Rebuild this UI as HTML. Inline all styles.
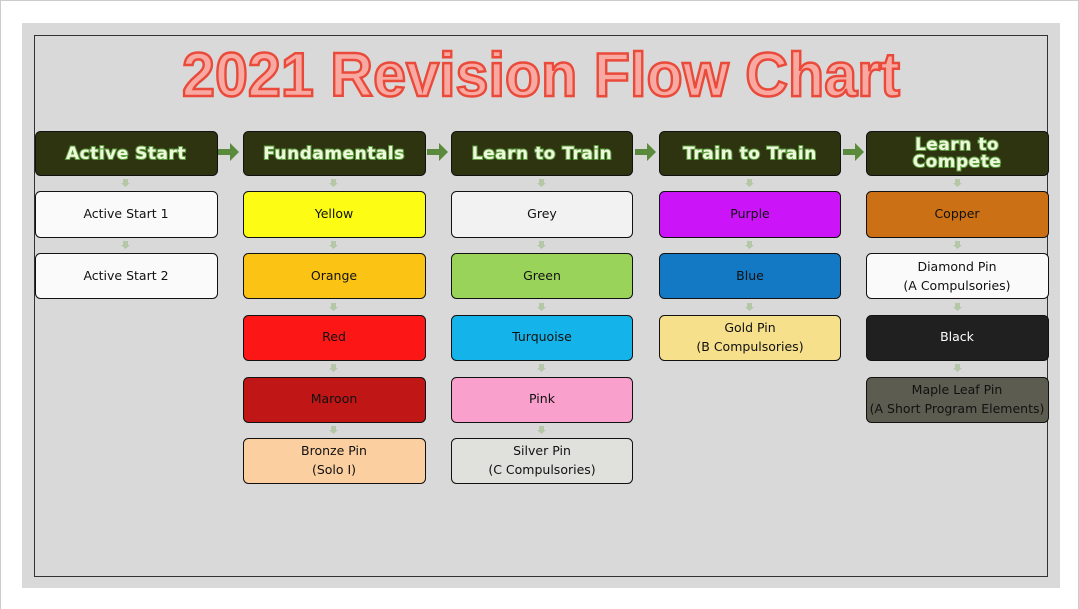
<!DOCTYPE html>
<html><head><meta charset="utf-8"><style>
html,body{margin:0;padding:0;background:#fff;width:1079px;height:609px;overflow:hidden}
svg{display:block}
.h{font-family:"DejaVu Sans","Liberation Sans",sans-serif;font-weight:bold;font-size:17px;fill:#eef8dc;stroke:#5a9a3c;stroke-width:2px;paint-order:stroke;letter-spacing:0.5px}
.t{font-family:"DejaVu Sans","Liberation Sans",sans-serif;font-size:12.5px;fill:#111}
</style></head><body>
<svg width="1079" height="609" xmlns="http://www.w3.org/2000/svg">
<rect x="0.5" y="0.5" width="1078" height="620" fill="#fff" stroke="#ccc"/>
<rect x="22" y="23" width="1038" height="565" fill="#d9d9d9"/>
<rect x="34.5" y="35.5" width="1013" height="541" fill="none" stroke="#333" stroke-width="1"/>
<text x="541" y="96" text-anchor="middle" textLength="718" lengthAdjust="spacingAndGlyphs" font-family="Liberation Sans,DejaVu Sans,sans-serif" font-weight="bold" font-size="62" fill="#f8aaa2" stroke="#ea4a3a" stroke-width="2.5">2021 Revision Flow Chart</text>
<g id="hdr">
<rect x="35.5" y="131.5" width="182" height="44" rx="5" fill="#2e3410" stroke="#111"/>
<rect x="243.5" y="131.5" width="182" height="44" rx="5" fill="#2e3410" stroke="#111"/>
<rect x="451.5" y="131.5" width="181" height="44" rx="5" fill="#2e3410" stroke="#111"/>
<rect x="659.5" y="131.5" width="181" height="44" rx="5" fill="#2e3410" stroke="#111"/>
<rect x="866.5" y="131.5" width="182" height="44" rx="5" fill="#2e3410" stroke="#111"/>
<text class="h" x="126" y="159" text-anchor="middle">Active Start</text>
<text class="h" x="334" y="159" text-anchor="middle">Fundamentals</text>
<text class="h" x="542" y="159" text-anchor="middle">Learn to Train</text>
<text class="h" x="750" y="159" text-anchor="middle">Train to Train</text>
<text class="h" x="957" y="150" text-anchor="middle">Learn to</text>
<text class="h" x="957" y="167" text-anchor="middle">Compete</text>
</g>
<g fill="#5a8a3c">
<path d="M218 149h12v-6l9 9-9 9v-6h-12z"/>
<path d="M427 149h12v-6l9 9-9 9v-6h-12z"/>
<path d="M635 149h12v-6l9 9-9 9v-6h-12z"/>
<path d="M843 149h12v-6l9 9-9 9v-6h-12z"/>
</g>
<g fill="#b4c8a8">
<path d="M123 179h5v4h2l-4.5 4-4.5-4h2z"/><path d="M123 241h5v4h2l-4.5 4-4.5-4h2z"/>
<path d="M331 179h5v4h2l-4.5 4-4.5-4h2z"/><path d="M331 241h5v4h2l-4.5 4-4.5-4h2z"/><path d="M331 303h5v4h2l-4.5 4-4.5-4h2z"/><path d="M331 364h5v4h2l-4.5 4-4.5-4h2z"/><path d="M331 426h5v4h2l-4.5 4-4.5-4h2z"/>
<path d="M539 179h5v4h2l-4.5 4-4.5-4h2z"/><path d="M539 241h5v4h2l-4.5 4-4.5-4h2z"/><path d="M539 303h5v4h2l-4.5 4-4.5-4h2z"/><path d="M539 364h5v4h2l-4.5 4-4.5-4h2z"/><path d="M539 426h5v4h2l-4.5 4-4.5-4h2z"/>
<path d="M747 179h5v4h2l-4.5 4-4.5-4h2z"/><path d="M747 241h5v4h2l-4.5 4-4.5-4h2z"/><path d="M747 303h5v4h2l-4.5 4-4.5-4h2z"/>
<path d="M955 179h5v4h2l-4.5 4-4.5-4h2z"/><path d="M955 241h5v4h2l-4.5 4-4.5-4h2z"/><path d="M955 303h5v4h2l-4.5 4-4.5-4h2z"/><path d="M955 364h5v4h2l-4.5 4-4.5-4h2z"/>
</g>
<g stroke="#111" stroke-width="1">
<rect x="35.5" y="191.5" width="182" height="46" rx="5" fill="#fafafa"/>
<rect x="35.5" y="253.5" width="182" height="45" rx="5" fill="#fafafa"/>
<rect x="243.5" y="191.5" width="182" height="46" rx="5" fill="#fcfc14"/>
<rect x="243.5" y="253.5" width="182" height="45" rx="5" fill="#fbc314"/>
<rect x="243.5" y="315.5" width="182" height="45" rx="5" fill="#fc1616"/>
<rect x="243.5" y="377.5" width="182" height="45" rx="5" fill="#c01616"/>
<rect x="243.5" y="438.5" width="182" height="45" rx="5" fill="#fccfa0"/>
<rect x="451.5" y="191.5" width="181" height="46" rx="5" fill="#f2f2f2"/>
<rect x="451.5" y="253.5" width="181" height="45" rx="5" fill="#9ad35a"/>
<rect x="451.5" y="315.5" width="181" height="45" rx="5" fill="#14b4ea"/>
<rect x="451.5" y="377.5" width="181" height="45" rx="5" fill="#f9a0cc"/>
<rect x="451.5" y="438.5" width="181" height="45" rx="5" fill="#e0e0dc"/>
<rect x="659.5" y="191.5" width="181" height="46" rx="5" fill="#cc14f8"/>
<rect x="659.5" y="253.5" width="181" height="45" rx="5" fill="#1479c4"/>
<rect x="659.5" y="315.5" width="181" height="45" rx="5" fill="#f6e08c"/>
<rect x="866.5" y="191.5" width="182" height="46" rx="5" fill="#cc7016"/>
<rect x="866.5" y="253.5" width="182" height="45" rx="5" fill="#fafafa"/>
<rect x="866.5" y="315.5" width="182" height="45" rx="5" fill="#202020"/>
<rect x="866.5" y="377.5" width="182" height="45" rx="5" fill="#5c5c50"/>
</g>
<g class="t" text-anchor="middle">
<text class="t" x="126" y="218">Active Start 1</text>
<text class="t" x="126" y="280">Active Start 2</text>
<text class="t" x="334" y="218">Yellow</text>
<text class="t" x="334" y="280">Orange</text>
<text class="t" x="334" y="341">Red</text>
<text class="t" x="334" y="403">Maroon</text>
<text class="t" x="334" y="455">Bronze Pin</text>
<text class="t" x="334" y="474">(Solo I)</text>
<text class="t" x="542" y="218">Grey</text>
<text class="t" x="542" y="280">Green</text>
<text class="t" x="542" y="341">Turquoise</text>
<text class="t" x="542" y="403">Pink</text>
<text class="t" x="542" y="455">Silver Pin</text>
<text class="t" x="542" y="474">(C Compulsories)</text>
<text class="t" x="750" y="218">Purple</text>
<text class="t" x="750" y="280">Blue</text>
<text class="t" x="750" y="332">Gold Pin</text>
<text class="t" x="750" y="351">(B Compulsories)</text>
<text class="t" x="957" y="218">Copper</text>
<text class="t" x="957" y="271">Diamond Pin</text>
<text class="t" x="957" y="290">(A Compulsories)</text>
<text class="t" x="957" y="341" style="fill:#fff">Black</text>
<text class="t" x="957" y="394">Maple Leaf Pin</text>
<text class="t" x="957" y="413">(A Short Program Elements)</text>
</g>
</svg>
</body></html>
